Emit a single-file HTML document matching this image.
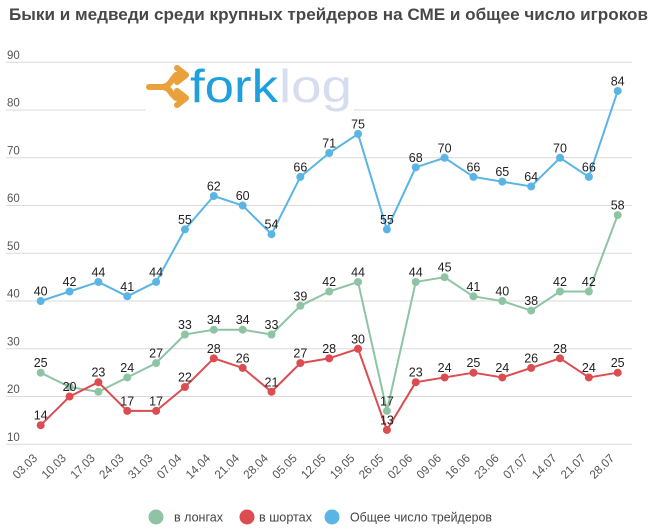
<!DOCTYPE html>
<html><head><meta charset="utf-8"><style>
html,body{margin:0;padding:0;background:#fff;}
svg{display:block;font-family:"Liberation Sans","DejaVu Sans",sans-serif;}
</style></head><body>
<svg width="658" height="532" viewBox="0 0 658 532" xmlns="http://www.w3.org/2000/svg">
<rect width="658" height="532" fill="#fff"/>
<text x="9" y="20" font-size="17" font-weight="bold" fill="#484848" textLength="639" lengthAdjust="spacingAndGlyphs">Быки и медведи среди крупных трейдеров на СМЕ и общее число игроков</text>
<g stroke="#dadada" stroke-width="1">
<line x1="6" y1="62.3" x2="632" y2="62.3"/>
<line x1="6" y1="110.05" x2="632" y2="110.05"/>
<line x1="6" y1="157.8" x2="632" y2="157.8"/>
<line x1="6" y1="205.55" x2="632" y2="205.55"/>
<line x1="6" y1="253.3" x2="632" y2="253.3"/>
<line x1="6" y1="301.05" x2="632" y2="301.05"/>
<line x1="6" y1="348.8" x2="632" y2="348.8"/>
<line x1="6" y1="396.55" x2="632" y2="396.55"/>
<line x1="6" y1="444.3" x2="632" y2="444.3"/>
</g>
<g font-size="11.5" fill="#555">
<text x="7" y="58.8">90</text>
<text x="7" y="106.5">80</text>
<text x="7" y="154.3">70</text>
<text x="7" y="202">60</text>
<text x="7" y="249.8">50</text>
<text x="7" y="297.5">40</text>
<text x="7" y="345.3">30</text>
<text x="7" y="393">20</text>
<text x="7" y="440.8">10</text>
</g>
<!-- logo -->
<rect x="146" y="64" width="208" height="54" fill="#fff"/>
<g fill="none" stroke="#e9a23b" stroke-width="6" stroke-linecap="round" stroke-linejoin="round">
<path d="M149 87 L162 87 Q168 87 172 80 L176 75 L184 75"/>
<path d="M162 87 Q168 87 172 94 L176 98 L184 98"/>
<path d="M177 68 L186 75 L177 82"/>
<path d="M177 91 L186 98 L177 105"/>
</g>
<text x="190" y="102" font-size="46" fill="#1ea0dc" textLength="88" lengthAdjust="spacingAndGlyphs">fork</text>
<text x="279" y="102" font-size="46" fill="#d8dcef" textLength="73" lengthAdjust="spacingAndGlyphs">log</text>
<!-- series -->
<g fill="none" stroke-width="2" stroke-linejoin="round">
<polyline stroke="#8ec4a4" points="40.7,372.7 69.55,387 98.4,391.8 127.25,377.45 156.1,363.1 184.95,334.5 213.8,329.7 242.65,329.7 271.5,334.5 300.35,305.8 329.2,291.5 358.05,281.95 386.9,410.9 415.75,281.95 444.6,277.2 473.45,296.3 502.3,301.05 531.15,310.6 560,291.5 588.85,291.5 617.7,215.1"/>
<polyline stroke="#dc4c50" points="40.7,425.2 69.55,396.55 98.4,382.2 127.25,410.9 156.1,410.9 184.95,387 213.8,358.35 242.65,367.9 271.5,391.8 300.35,363.1 329.2,358.35 358.05,348.8 386.9,429.98 415.75,382.2 444.6,377.45 473.45,372.7 502.3,377.45 531.15,367.9 560,358.35 588.85,377.45 617.7,372.7"/>
<polyline stroke="#5ab4e4" points="40.7,301.05 69.55,291.5 98.4,281.95 127.25,296.3 156.1,281.95 184.95,229.4 213.8,196 242.65,205.55 271.5,234.2 300.35,176.9 329.2,153 358.05,133.9 386.9,229.4 415.75,167.35 444.6,157.8 473.45,176.9 502.3,181.7 531.15,186.45 560,157.8 588.85,176.9 617.7,90.95"/>
</g>
<g fill="#8ec4a4">
<circle cx="40.7" cy="372.7" r="4"/><circle cx="69.55" cy="387" r="4"/><circle cx="98.4" cy="391.8" r="4"/><circle cx="127.25" cy="377.45" r="4"/><circle cx="156.1" cy="363.1" r="4"/><circle cx="184.95" cy="334.5" r="4"/><circle cx="213.8" cy="329.7" r="4"/><circle cx="242.65" cy="329.7" r="4"/><circle cx="271.5" cy="334.5" r="4"/><circle cx="300.35" cy="305.8" r="4"/><circle cx="329.2" cy="291.5" r="4"/><circle cx="358.05" cy="281.95" r="4"/><circle cx="386.9" cy="410.9" r="4"/><circle cx="415.75" cy="281.95" r="4"/><circle cx="444.6" cy="277.2" r="4"/><circle cx="473.45" cy="296.3" r="4"/><circle cx="502.3" cy="301.05" r="4"/><circle cx="531.15" cy="310.6" r="4"/><circle cx="560" cy="291.5" r="4"/><circle cx="588.85" cy="291.5" r="4"/><circle cx="617.7" cy="215.1" r="4"/>
</g>
<g fill="#dc4c50">
<circle cx="40.7" cy="425.2" r="4"/><circle cx="69.55" cy="396.55" r="4"/><circle cx="98.4" cy="382.2" r="4"/><circle cx="127.25" cy="410.9" r="4"/><circle cx="156.1" cy="410.9" r="4"/><circle cx="184.95" cy="387" r="4"/><circle cx="213.8" cy="358.35" r="4"/><circle cx="242.65" cy="367.9" r="4"/><circle cx="271.5" cy="391.8" r="4"/><circle cx="300.35" cy="363.1" r="4"/><circle cx="329.2" cy="358.35" r="4"/><circle cx="358.05" cy="348.8" r="4"/><circle cx="386.9" cy="429.98" r="4"/><circle cx="415.75" cy="382.2" r="4"/><circle cx="444.6" cy="377.45" r="4"/><circle cx="473.45" cy="372.7" r="4"/><circle cx="502.3" cy="377.45" r="4"/><circle cx="531.15" cy="367.9" r="4"/><circle cx="560" cy="358.35" r="4"/><circle cx="588.85" cy="377.45" r="4"/><circle cx="617.7" cy="372.7" r="4"/>
</g>
<g fill="#5ab4e4">
<circle cx="40.7" cy="301.05" r="4"/><circle cx="69.55" cy="291.5" r="4"/><circle cx="98.4" cy="281.95" r="4"/><circle cx="127.25" cy="296.3" r="4"/><circle cx="156.1" cy="281.95" r="4"/><circle cx="184.95" cy="229.4" r="4"/><circle cx="213.8" cy="196" r="4"/><circle cx="242.65" cy="205.55" r="4"/><circle cx="271.5" cy="234.2" r="4"/><circle cx="300.35" cy="176.9" r="4"/><circle cx="329.2" cy="153" r="4"/><circle cx="358.05" cy="133.9" r="4"/><circle cx="386.9" cy="229.4" r="4"/><circle cx="415.75" cy="167.35" r="4"/><circle cx="444.6" cy="157.8" r="4"/><circle cx="473.45" cy="176.9" r="4"/><circle cx="502.3" cy="181.7" r="4"/><circle cx="531.15" cy="186.45" r="4"/><circle cx="560" cy="157.8" r="4"/><circle cx="588.85" cy="176.9" r="4"/><circle cx="617.7" cy="90.95" r="4"/>
</g>
<!-- labels -->
<g font-size="12.5" fill="#222" text-anchor="middle">
<text x="40.7" y="367.2">25</text><text x="127.25" y="372">24</text><text x="156.1" y="357.6">27</text><text x="184.95" y="329">33</text><text x="213.8" y="324.2">34</text><text x="242.65" y="324.2">34</text><text x="271.5" y="329">33</text><text x="300.35" y="300.3">39</text><text x="329.2" y="286">42</text><text x="358.05" y="276.5">44</text><text x="386.9" y="405.4">17</text><text x="415.75" y="276.5">44</text><text x="444.6" y="271.7">45</text><text x="473.45" y="290.8">41</text><text x="502.3" y="295.6">40</text><text x="531.15" y="305.1">38</text><text x="560" y="286">42</text><text x="588.85" y="286">42</text><text x="617.7" y="209.6">58</text>
<text x="40.7" y="419.7">14</text><text x="69.55" y="391">20</text><text x="98.4" y="376.7">23</text><text x="127.25" y="405.4">17</text><text x="156.1" y="405.4">17</text><text x="184.95" y="381.5">22</text><text x="213.8" y="352.9">28</text><text x="242.65" y="362.4">26</text><text x="271.5" y="386.3">21</text><text x="300.35" y="357.6">27</text><text x="329.2" y="352.9">28</text><text x="358.05" y="343.3">30</text><text x="386.9" y="424.5">13</text><text x="415.75" y="376.7">23</text><text x="444.6" y="372">24</text><text x="473.45" y="367.2">25</text><text x="502.3" y="372">24</text><text x="531.15" y="362.4">26</text><text x="560" y="352.9">28</text><text x="588.85" y="372">24</text><text x="617.7" y="367.2">25</text>
<text x="40.7" y="295.6">40</text><text x="69.55" y="286">42</text><text x="98.4" y="276.5">44</text><text x="127.25" y="290.8">41</text><text x="156.1" y="276.5">44</text><text x="184.95" y="223.9">55</text><text x="213.8" y="190.5">62</text><text x="242.65" y="200">60</text><text x="271.5" y="228.7">54</text><text x="300.35" y="171.4">66</text><text x="329.2" y="147.5">71</text><text x="358.05" y="128.4">75</text><text x="386.9" y="223.9">55</text><text x="415.75" y="161.9">68</text><text x="444.6" y="152.3">70</text><text x="473.45" y="171.4">66</text><text x="502.3" y="176.2">65</text><text x="531.15" y="181">64</text><text x="560" y="152.3">70</text><text x="588.85" y="171.4">66</text><text x="617.7" y="85.5">84</text>
</g>
<!-- x labels -->
<g font-size="12" fill="#555" text-anchor="end">
<text transform="translate(38,459) rotate(-45)" textLength="29" lengthAdjust="spacingAndGlyphs">03.03</text>
<text transform="translate(66.85,459) rotate(-45)" textLength="29" lengthAdjust="spacingAndGlyphs">10.03</text>
<text transform="translate(95.7,459) rotate(-45)" textLength="29" lengthAdjust="spacingAndGlyphs">17.03</text>
<text transform="translate(124.55,459) rotate(-45)" textLength="29" lengthAdjust="spacingAndGlyphs">24.03</text>
<text transform="translate(153.4,459) rotate(-45)" textLength="29" lengthAdjust="spacingAndGlyphs">31.03</text>
<text transform="translate(182.25,459) rotate(-45)" textLength="29" lengthAdjust="spacingAndGlyphs">07.04</text>
<text transform="translate(211.1,459) rotate(-45)" textLength="29" lengthAdjust="spacingAndGlyphs">14.04</text>
<text transform="translate(239.95,459) rotate(-45)" textLength="29" lengthAdjust="spacingAndGlyphs">21.04</text>
<text transform="translate(268.8,459) rotate(-45)" textLength="29" lengthAdjust="spacingAndGlyphs">28.04</text>
<text transform="translate(297.65,459) rotate(-45)" textLength="29" lengthAdjust="spacingAndGlyphs">05.05</text>
<text transform="translate(326.5,459) rotate(-45)" textLength="29" lengthAdjust="spacingAndGlyphs">12.05</text>
<text transform="translate(355.35,459) rotate(-45)" textLength="29" lengthAdjust="spacingAndGlyphs">19.05</text>
<text transform="translate(384.2,459) rotate(-45)" textLength="29" lengthAdjust="spacingAndGlyphs">26.05</text>
<text transform="translate(413.05,459) rotate(-45)" textLength="29" lengthAdjust="spacingAndGlyphs">02.06</text>
<text transform="translate(441.9,459) rotate(-45)" textLength="29" lengthAdjust="spacingAndGlyphs">09.06</text>
<text transform="translate(470.75,459) rotate(-45)" textLength="29" lengthAdjust="spacingAndGlyphs">16.06</text>
<text transform="translate(499.6,459) rotate(-45)" textLength="29" lengthAdjust="spacingAndGlyphs">23.06</text>
<text transform="translate(528.45,459) rotate(-45)" textLength="29" lengthAdjust="spacingAndGlyphs">07.07</text>
<text transform="translate(557.3,459) rotate(-45)" textLength="29" lengthAdjust="spacingAndGlyphs">14.07</text>
<text transform="translate(586.15,459) rotate(-45)" textLength="29" lengthAdjust="spacingAndGlyphs">21.07</text>
<text transform="translate(615,459) rotate(-45)" textLength="29" lengthAdjust="spacingAndGlyphs">28.07</text>
</g>
<!-- legend -->
<circle cx="156" cy="517" r="7.5" fill="#8ec4a4"/>
<circle cx="247" cy="517" r="7.5" fill="#dc4c50"/>
<circle cx="332" cy="517" r="7.5" fill="#5ab4e4"/>
<g font-size="12.5" fill="#444">
<text x="174" y="521.5" textLength="49" lengthAdjust="spacingAndGlyphs">в лонгах</text>
<text x="259" y="521.5" textLength="53" lengthAdjust="spacingAndGlyphs">в шортах</text>
<text x="350" y="521.5" textLength="142" lengthAdjust="spacingAndGlyphs">Общее число трейдеров</text>
</g>
</svg>
</body></html>
